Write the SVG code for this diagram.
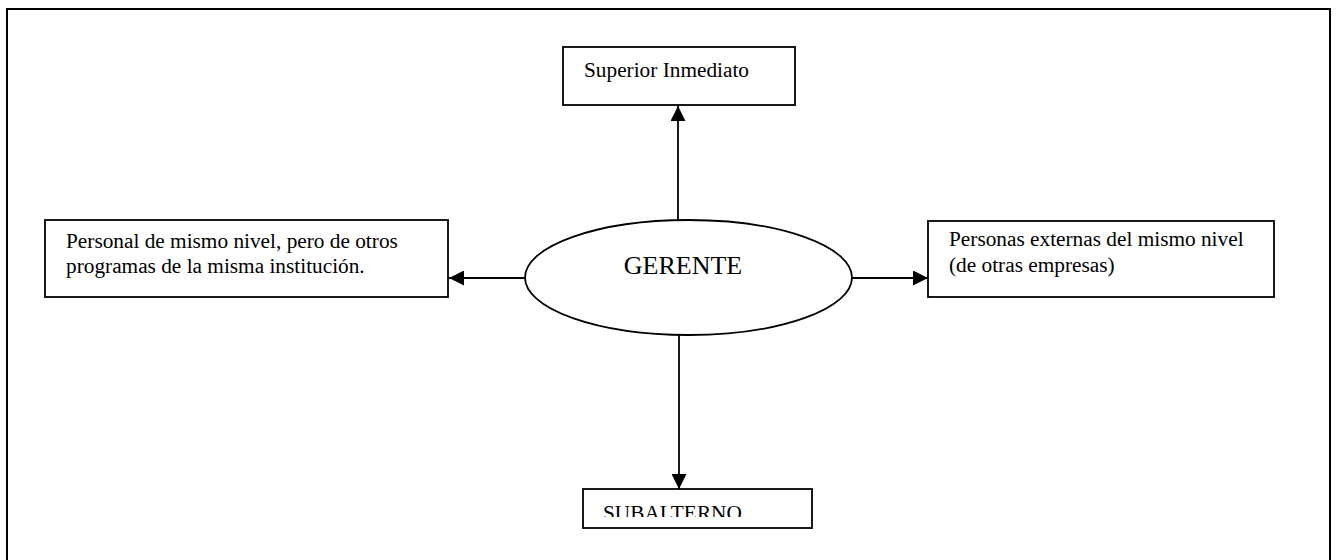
<svg xmlns="http://www.w3.org/2000/svg" width="1337" height="560" viewBox="0 0 1337 560">
  <style>
    .box { fill: #fff; stroke: #000; stroke-width: 1.8; }
    .frame { fill: none; stroke: #000; stroke-width: 2; }
    .lbl { font-family: "Liberation Serif", "Times New Roman", serif; font-size: 21.3px; fill: #000; }
    .big { font-family: "Liberation Serif", "Times New Roman", serif; font-size: 26px; fill: #000; }
    .link { stroke: #000; stroke-width: 1.8; fill: none; marker-end: url(#head); }
  </style>
  <defs>
    <marker id="head" viewBox="0 0 15 15" refX="15" refY="7.5" markerWidth="15" markerHeight="15" markerUnits="userSpaceOnUse" orient="auto">
      <path d="M0,0 L15,7.5 L0,15 z" fill="#000"/>
    </marker>
    <clipPath id="subClip">
      <rect x="583" y="489" width="229" height="28"/>
    </clipPath>
  </defs>

  <rect width="1337" height="560" fill="#fff"/>
  <!-- page frame -->
  <rect class="frame" x="7" y="9" width="1323" height="570"/>

  <g id="connectors">
    <line class="link" x1="678" y1="220" x2="678" y2="106"/>
    <line class="link" x1="525" y1="278" x2="449" y2="278"/>
    <line class="link" x1="852" y1="278" x2="928" y2="278"/>
    <line class="link" x1="679" y1="335" x2="679" y2="489"/>
  </g>

  <g id="gerente">
    <ellipse class="box" cx="688.5" cy="277.5" rx="163.5" ry="57.5"/>
    <text class="big" x="683" y="274" text-anchor="middle">GERENTE</text>
  </g>

  <g id="superior">
    <rect class="box" x="563" y="47" width="232" height="58"/>
    <text class="lbl" x="584" y="77">Superior Inmediato</text>
  </g>

  <g id="personal">
    <rect class="box" x="45" y="220" width="403" height="77"/>
    <text class="lbl" x="66" y="248">Personal de mismo nivel, pero de otros</text>
    <text class="lbl" x="66" y="273">programas de la misma institución.</text>
  </g>

  <g id="externas">
    <rect class="box" x="928" y="221" width="346" height="76"/>
    <text class="lbl" x="949" y="246">Personas externas del mismo nivel</text>
    <text class="lbl" x="949" y="272">(de otras empresas)</text>
  </g>

  <g id="subalterno">
    <rect class="box" x="583" y="489" width="229" height="39"/>
    <text class="lbl" x="603" y="520" clip-path="url(#subClip)">SUBALTERNO</text>
  </g>
</svg>
